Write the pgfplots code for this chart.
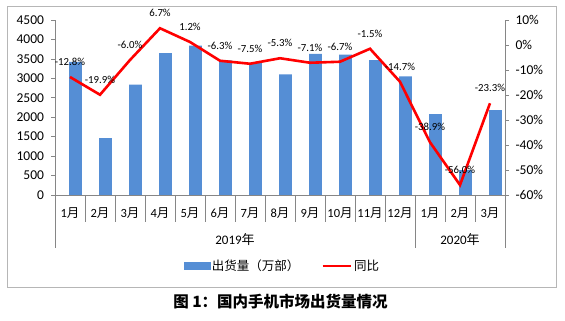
\documentclass[border=0pt]{standalone}
\usepackage{pgfplots}
\pgfplotsset{compat=1.18}
\usepackage{pgfplotstable}
\usepackage{fontspec}
\setmainfont{Carlito}
\newfontfamily\cjk{Noto Sans CJK SC}
\definecolor{barblue}{RGB}{85,142,213}
\definecolor{axgray}{RGB}{134,134,134}
\pgfplotstableread{
x ship yoy
0 3420 -12.8
1 1460 -19.9
2 2840 -6.0
3 3650 6.7
4 3840 1.2
5 3460 -6.3
6 3400 -7.5
7 3100 -5.3
8 3630 -7.1
9 3610 -6.7
10 3470 -1.5
11 3050 -14.7
12 2080 -38.9
13 640 -56.0
14 2180 -23.3
}\datatable
\begin{document}
\begin{tikzpicture}[x=1pt,y=1pt]
\useasboundingbox (0,0) rectangle (565,321);
\draw[axgray!60, line width=0.8pt] (7,34) rectangle (556,315);
\begin{axis}[
 at={(55pt,126pt)}, anchor=south west,
 scale only axis, width=450pt, height=175pt,
 xmin=-0.5, xmax=14.5, ymin=0, ymax=4500,
 axis x line*=bottom, axis y line*=left,
 axis line style={axgray, line width=0.6pt, -},
 /pgf/number format/assume math mode=true,
 ytick={0,500,...,4500},
 yticklabel style={font=\fontsize{13.5}{14}\selectfont, /pgf/number format/1000 sep={}, xshift=-3.5pt},
 tick style={axgray, line width=0.6pt},
 tick align=outside, major tick length=4pt,
 xtick={0,...,14},
 xticklabels={1{\cjk 月},2{\cjk 月},3{\cjk 月},4{\cjk 月},5{\cjk 月},6{\cjk 月},7{\cjk 月},8{\cjk 月},9{\cjk 月},10{\cjk 月},11{\cjk 月},12{\cjk 月},1{\cjk 月},2{\cjk 月},3{\cjk 月}},
 xtick style={draw=none},
 xticklabel style={font=\fontsize{12.5}{13}\selectfont, anchor=center, yshift=-14pt},
 clip=false,
]
\addplot[ybar, bar width=12.7pt, bar shift=5.5pt, fill=barblue, draw=none] table[x=x,y=ship]{\datatable};
\end{axis}
\begin{axis}[
 at={(55pt,126pt)}, anchor=south west,
 scale only axis, width=450pt, height=175pt,
 xmin=-0.5, xmax=14.5, ymin=-60, ymax=10,
 axis y line*=right, axis x line=none,
 axis line style={axgray, line width=0.6pt, -},
 /pgf/number format/assume math mode=true,
 ytick={-60,-50,...,10},
 yticklabel={\pgfmathprintnumber{\tick}\%},
 yticklabel style={font=\fontsize{13.5}{14}\selectfont, xshift=3pt},
 tick style={axgray, line width=0.6pt},
 tick align=outside, major tick length=4pt,
 clip=false,
 legend columns=2,
 legend style={at={(0.505,-0.406)}, anchor=center, draw=none, fill=none,
   font=\cjk\fontsize{12.5}{12.5}\selectfont, /tikz/every even column/.append style={column sep=20pt}},
 legend cell align=left,
]
\addlegendimage{legend image code/.code={\fill[barblue] (0pt,-3.5pt) rectangle (26pt,3.5pt);}}
\addlegendentry{出货量（万部）}
\addplot[red, line width=2.6pt, mark=none,
  legend image code/.code={\draw[red,line width=2.6pt] (0pt,0pt) -- (28pt,0pt);},
  nodes near coords={\pgfmathprintnumber[fixed,fixed zerofill,precision=1]{\pgfplotspointmeta}\%},
  point meta=y,
  every node near coord/.append style={anchor=center, yshift=15pt, font=\fontsize{10.8}{11}\selectfont, text=black}
] table[x=x,y=yoy]{\datatable};
\addlegendentry{同比}
\end{axis}
\foreach \k in {1,...,11,13,14} \draw[axgray, line width=0.6pt] (55+30*\k,126) -- ++(0,-27);
\foreach \k in {0,12,15} \draw[axgray, line width=0.6pt] (55+30*\k,126) -- ++(0,-53);
\node[font=\fontsize{13}{13}\selectfont] at (235,81) {2019{\cjk 年}};
\node[font=\fontsize{13}{13}\selectfont] at (460,81) {2020{\cjk 年}};
\node[font=\cjk\bfseries\fontsize{15.5}{15.5}\selectfont] at (280.5,19) {图 1：国内手机市场出货量情况};
\end{tikzpicture}
\end{document}
